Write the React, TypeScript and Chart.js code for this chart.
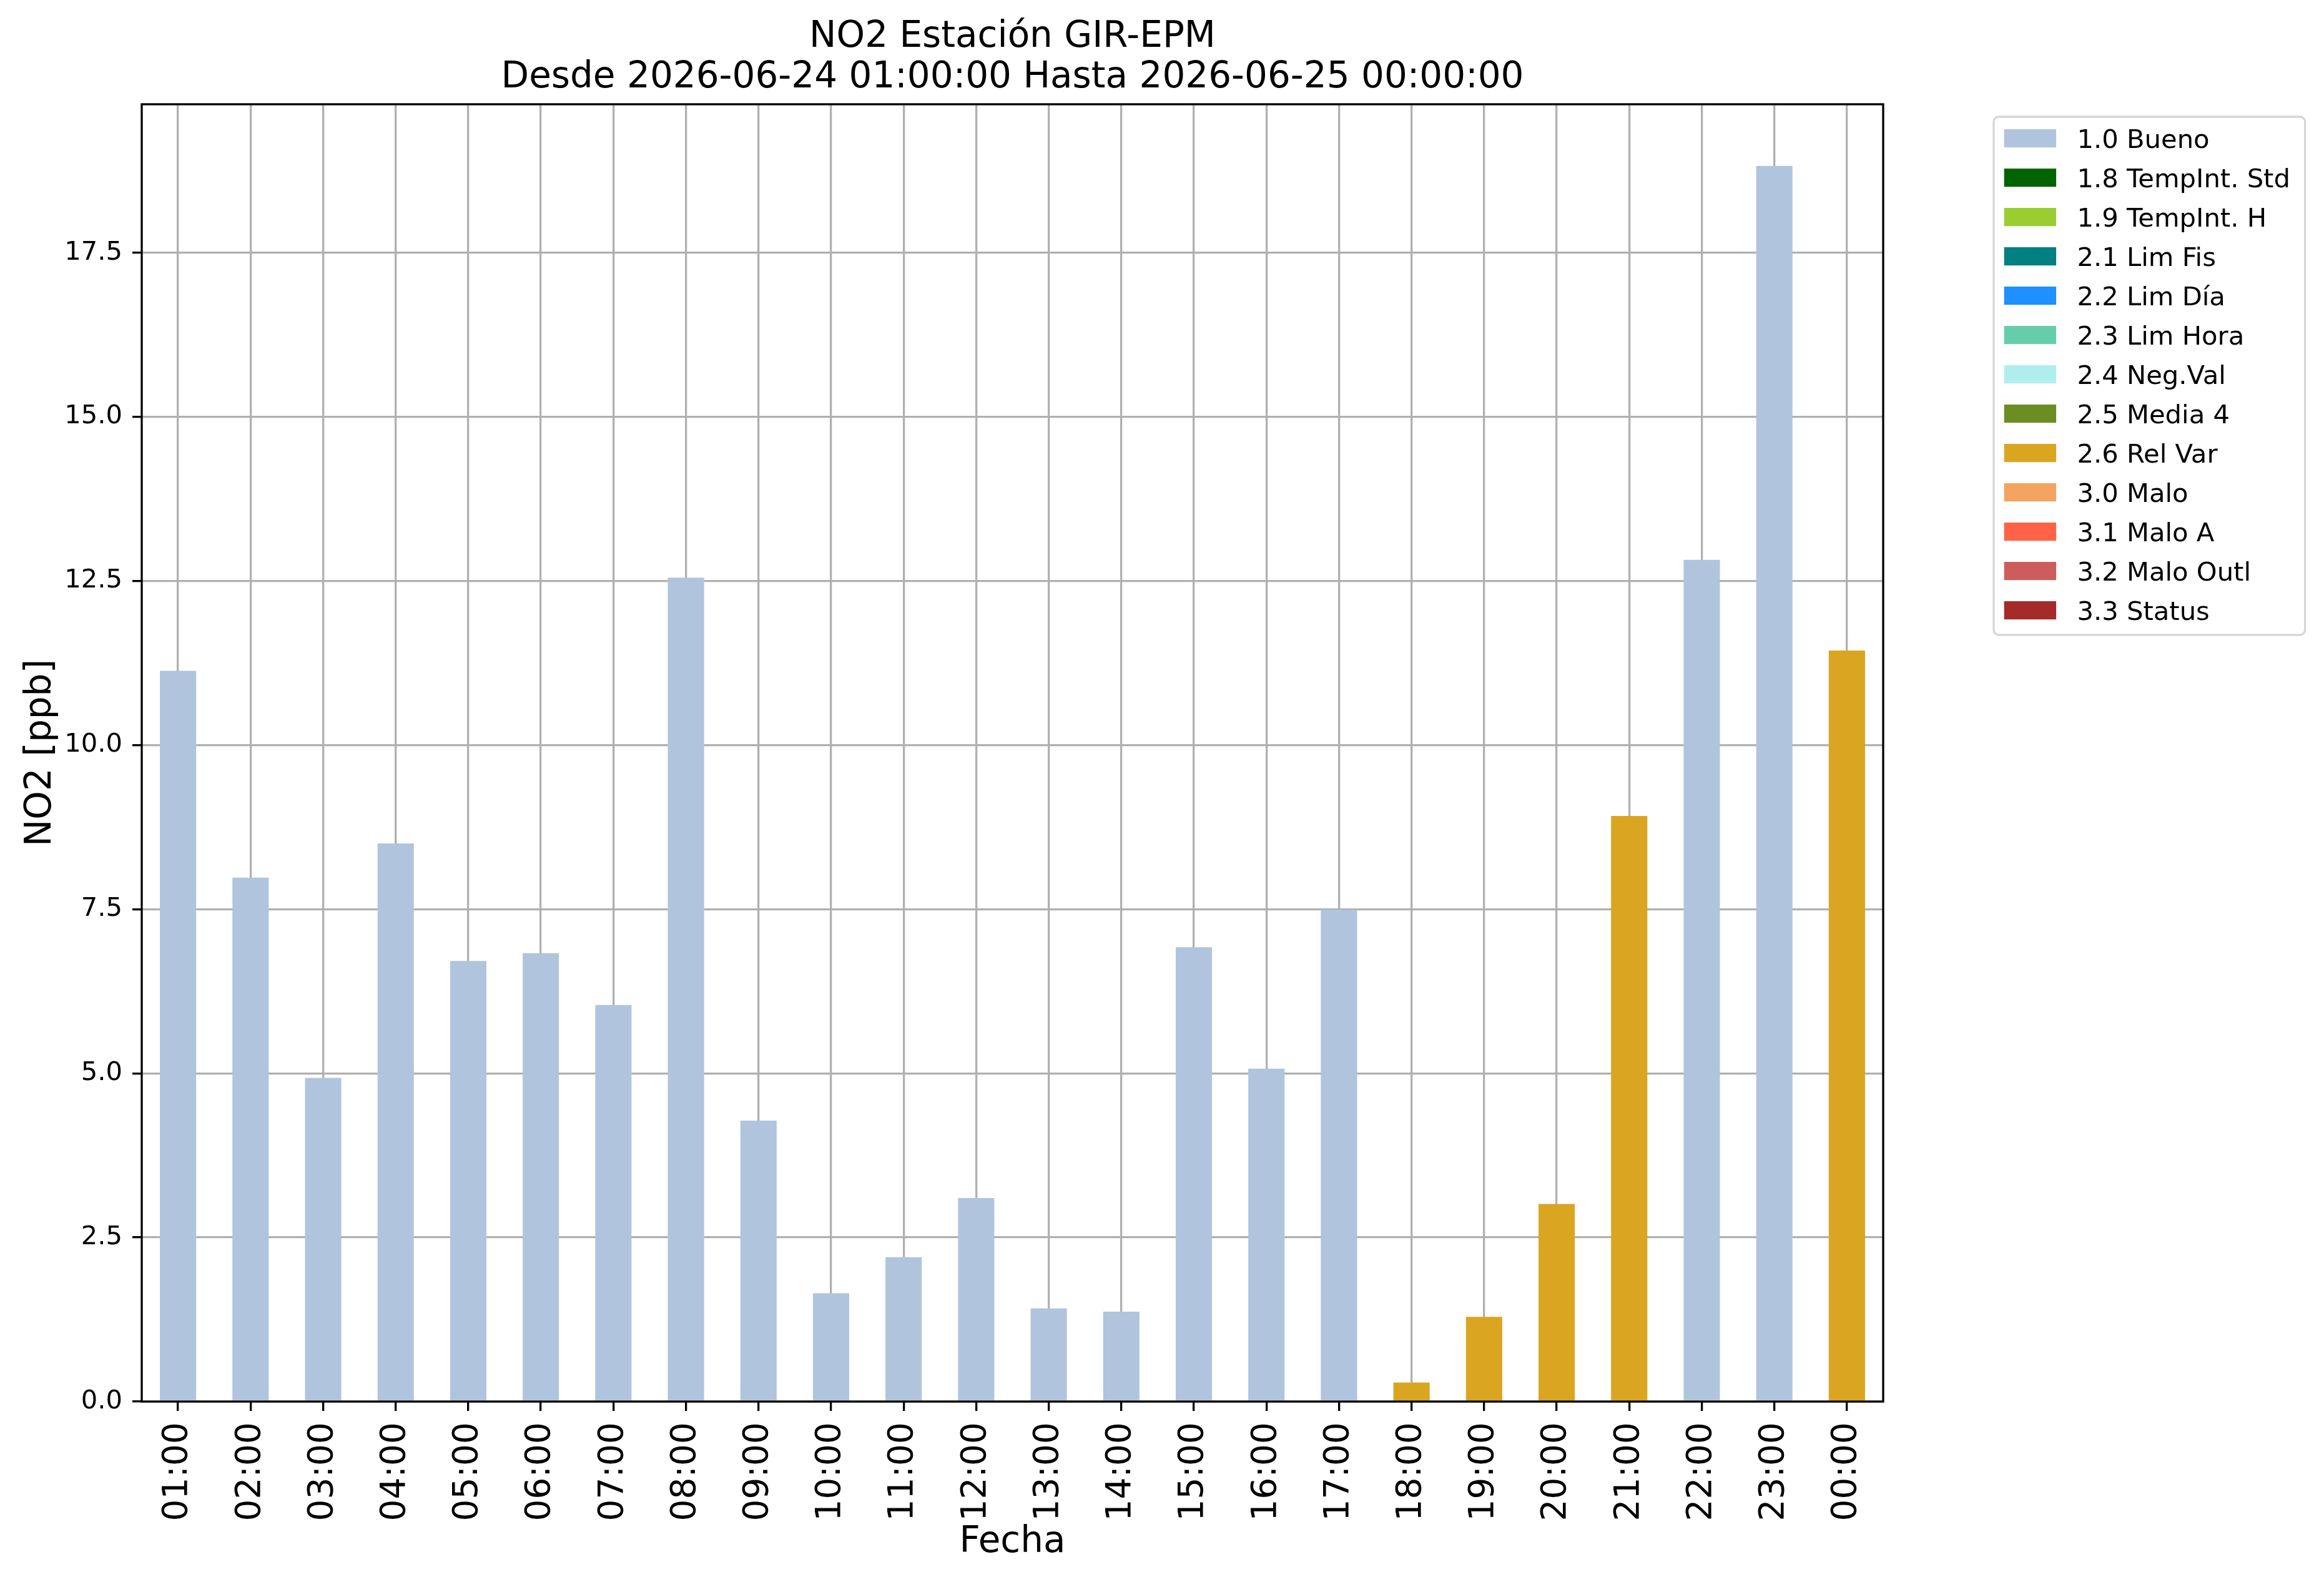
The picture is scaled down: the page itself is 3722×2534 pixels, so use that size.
import { useEffect, useRef } from 'react';
import { Chart, registerables } from 'chart.js';

Chart.register(...registerables);

// Horas del día y concentración de NO2 [ppb]
const horas = [
  '01:00', '02:00', '03:00', '04:00', '05:00', '06:00', '07:00', '08:00',
  '09:00', '10:00', '11:00', '12:00', '13:00', '14:00', '15:00', '16:00',
  '17:00', '18:00', '19:00', '20:00', '21:00', '22:00', '23:00', '00:00',
];

const no2 = [
  11.13, 7.98, 4.93, 8.50, 6.71, 6.83, 6.04, 12.55,
  4.28, 1.65, 2.20, 3.10, 1.42, 1.37, 6.92, 5.07,
  7.49, 0.29, 1.29, 3.01, 8.92, 12.82, 18.82, 11.44,
];

// Bandera de calidad de cada hora
const banderas = [
  '1.0 Bueno', '1.0 Bueno', '1.0 Bueno', '1.0 Bueno', '1.0 Bueno', '1.0 Bueno', '1.0 Bueno', '1.0 Bueno',
  '1.0 Bueno', '1.0 Bueno', '1.0 Bueno', '1.0 Bueno', '1.0 Bueno', '1.0 Bueno', '1.0 Bueno', '1.0 Bueno',
  '1.0 Bueno', '2.6 Rel Var', '2.6 Rel Var', '2.6 Rel Var', '2.6 Rel Var', '1.0 Bueno', '1.0 Bueno', '2.6 Rel Var',
];

const categorias = [
  '1.0 Bueno', '1.8 TempInt. Std', '1.9 TempInt. H', '2.1 Lim Fis', '2.2 Lim Día',
  '2.3 Lim Hora', '2.4 Neg.Val', '2.5 Media 4', '2.6 Rel Var', '3.0 Malo',
  '3.1 Malo A', '3.2 Malo Outl', '3.3 Status',
];

const colores = [
  '#B0C4DE', '#006400', '#9ACD32', '#008080', '#1E90FF',
  '#66CDAA', '#AFEEEE', '#6B8E23', '#DAA520', '#F4A460',
  '#FF6347', '#CD5C5C', '#A52A2A',
];

const yTicks = [0, 2.5, 5, 7.5, 10, 12.5, 15, 17.5];

const titulo = ['NO2 Estación GIR-EPM', 'Desde 2026-06-24 01:00:00 Hasta 2026-06-25 00:00:00'];

const FONT = 'DejaVu Sans';
const LW = 3.3; // 0.8pt a 300 dpi

// Título centrado sobre el área de la gráfica
const tituloPlugin = {
  id: 'tituloMpl',
  afterDraw(chart: any) {
    const { ctx, chartArea } = chart;
    const cx = (chartArea.left + chartArea.right) / 2;
    ctx.save();
    ctx.fillStyle = '#000';
    ctx.font = `58px "${FONT}"`;
    ctx.textAlign = 'center';
    ctx.textBaseline = 'alphabetic';
    ctx.fillText(titulo[0], cx, 75);
    ctx.fillText(titulo[1], cx, 140);
    ctx.restore();
  },
};

// Marco completo alrededor del área
const marcoPlugin = {
  id: 'marco',
  afterDraw(chart: any) {
    const { ctx, chartArea } = chart;
    ctx.save();
    ctx.strokeStyle = '#000';
    ctx.lineWidth = LW;
    ctx.strokeRect(chartArea.left, chartArea.top, chartArea.right - chartArea.left, chartArea.bottom - chartArea.top);
    ctx.restore();
  },
};

// Leyenda estilo matplotlib fuera del área, a la derecha
const leyendaPlugin = {
  id: 'leyendaMpl',
  afterDraw(chart: any) {
    const { ctx } = chart;
    const fs = 41.7;
    const x0 = 3193;
    const y0 = 187;
    const pad = 0.4 * fs;
    const handleW = 2 * fs;
    const handleH = 0.7 * fs;
    const textPad = 0.8 * fs;
    const paso = 63;
    ctx.save();
    ctx.font = `${fs}px "${FONT}"`;
    const datasets = chart.data.datasets;
    let maxW = 0;
    datasets.forEach((d: any) => {
      maxW = Math.max(maxW, ctx.measureText(d.label).width);
    });
    const w = pad + handleW + textPad + maxW + pad + 7;
    const h = 830;
    ctx.fillStyle = 'rgba(255,255,255,0.8)';
    ctx.strokeStyle = '#d6d6d6';
    ctx.lineWidth = LW;
    ctx.beginPath();
    ctx.roundRect(x0, y0, w, h, 8);
    ctx.fill();
    ctx.stroke();
    ctx.textAlign = 'left';
    ctx.textBaseline = 'alphabetic';
    datasets.forEach((d: any, i: number) => {
      const top = 207 + paso * i;
      ctx.fillStyle = d.backgroundColor;
      ctx.fillRect(x0 + pad, top, handleW, handleH);
      ctx.fillStyle = '#000';
      ctx.fillText(d.label, x0 + pad + handleW + textPad, 237 + paso * i);
    });
    ctx.restore();
  },
};

export default function App() {
  const chartRef = useRef<HTMLCanvasElement>(null);

  useEffect(() => {
    if (!chartRef.current) return;
    document.body.style.margin = '0';

    const datasets = categorias.map((cat, k) => ({
      label: cat,
      data: no2.map((v, i) => (banderas[i] === cat ? v : null)),
      backgroundColor: colores[k],
      borderWidth: 0,
      barPercentage: 0.5,
      categoryPercentage: 1.0,
    }));

    const chart = new Chart(chartRef.current, {
      type: 'bar',
      data: { labels: horas, datasets },
      options: {
        animation: false,
        responsive: true,
        maintainAspectRatio: false,
        devicePixelRatio: 1,
        layout: { padding: { top: 167, right: 706, left: 0, bottom: 0 } },
        plugins: {
          legend: { display: false },
          title: { display: false },
          tooltip: { enabled: false },
        },
        scales: {
          x: {
            stacked: true,
            z: 1,
            offset: true,
            afterFit: (scale: any) => { scale.height = 289; },
            border: { display: false },
            grid: {
              offset: false,
              color: '#b0b0b0',
              lineWidth: LW,
              drawTicks: true,
              tickLength: 15,
              tickColor: '#000',
              tickWidth: LW,
            },
            ticks: {
              autoSkip: false,
              minRotation: 90,
              maxRotation: 90,
              padding: 18,
              color: '#000',
              font: { family: FONT, size: 55 },
            },
            title: {
              display: true,
              text: 'Fecha',
              color: '#000',
              font: { family: FONT, size: 58 },
              padding: { top: 0, bottom: 28 },
            },
          },
          y: {
            stacked: true,
            z: 1,
            min: 0,
            max: 19.76,
            afterFit: (scale: any) => { scale.width = 227; },
            afterBuildTicks: (scale: any) => { scale.ticks = yTicks.map((v) => ({ value: v })); },
            border: { display: false },
            grid: {
              color: '#b0b0b0',
              lineWidth: LW,
              drawTicks: true,
              tickLength: 15,
              tickColor: '#000',
              tickWidth: LW,
            },
            ticks: {
              padding: 16,
              color: '#000',
              font: { family: FONT, size: 41.7 },
              callback: (v: any) => Number(v).toFixed(1),
            },
            title: {
              display: true,
              text: 'NO2 [ppb]',
              color: '#000',
              font: { family: FONT, size: 58 },
              padding: { top: 31, bottom: 0 },
            },
          },
        },
      },
      plugins: [tituloPlugin, marcoPlugin, leyendaPlugin],
    });

    return () => chart.destroy();
  }, []);

  return (
    <div style={{ position: 'absolute', left: 0, top: 0, width: '3722px', height: '2534px', background: '#fff' }}>
      <canvas ref={chartRef} />
    </div>
  );
}
